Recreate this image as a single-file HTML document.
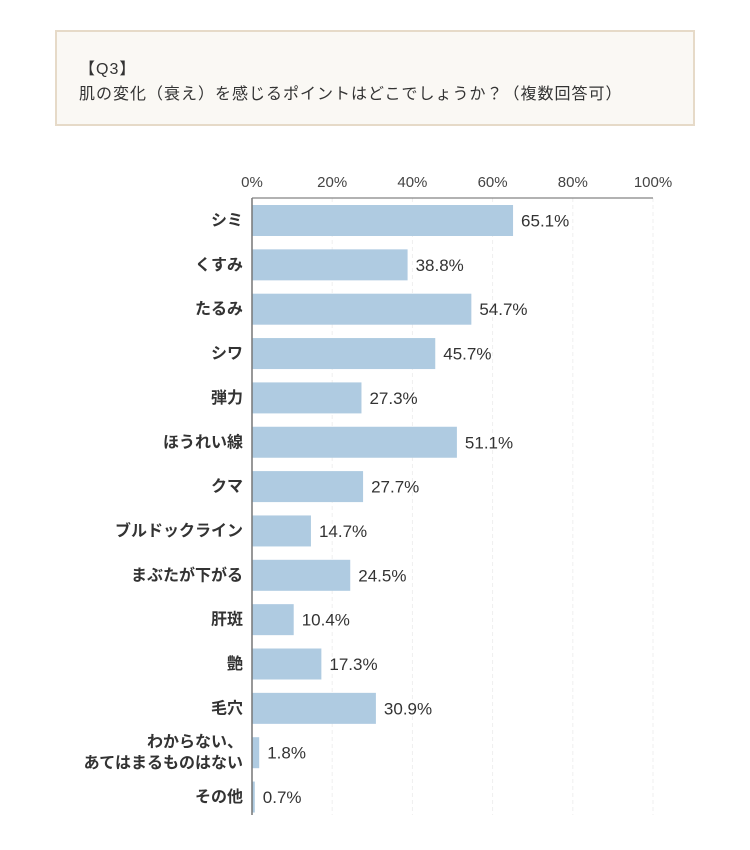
<!DOCTYPE html>
<html><head><meta charset="utf-8"><style>
body{margin:0;background:#fff;width:750px;height:850px;overflow:hidden;font-family:"Liberation Sans","Noto Sans CJK JP",sans-serif;}
#hdr{position:absolute;left:55px;top:30px;width:636px;height:92px;background:#faf8f4;border:2px solid #e6dac8;}
#hdr div{position:absolute;left:22px;color:#333;font-size:16px;letter-spacing:1px;}
</style></head><body>
<div id="hdr">
<div style="top:23px">【Q3】</div>
<div style="top:48px">肌の変化（衰え）を感じるポイントはどこでしょうか？（複数回答可）</div>
</div>
<svg id="chart" width="750" height="850" style="position:absolute;left:0;top:0"></svg>
<script>
const categories=["シミ","くすみ","たるみ","シワ","弾力","ほうれい線","クマ","ブルドックライン","まぶたが下がる","肝斑","艶","毛穴","わからない、|あてはまるものはない","その他"];
const values=[65.1,38.8,54.7,45.7,27.3,51.1,27.7,14.7,24.5,10.4,17.3,30.9,1.8,0.7];
const ticks=[0,20,40,60,80,100];
const NS="http://www.w3.org/2000/svg";
const svg=document.getElementById('chart');
const x0=252,x1=653,top0=198,pitch=44.35,firstC=220.5,bh=31,bottom=815;
function xs(v){return x0+(x1-x0)*v/100;}
function yc(i){return firstC+i*pitch;}
function mk(t,a){const e=document.createElementNS(NS,t);for(const k in a)e.setAttribute(k,a[k]);svg.appendChild(e);return e;}
ticks.forEach(t=>{
 if(t>0){const g=mk('line',{x1:xs(t),x2:xs(t),y1:top0,y2:bottom,stroke:'#efefef','stroke-dasharray':'4,3'});
 
 }
 const l=mk('text',{x:xs(t),y:187,'text-anchor':'middle','font-size':15,fill:'#444'});
 l.textContent=t+'%';
 
 
});
const ax=mk('line',{x1:x0,x2:x1,y1:top0,y2:top0,stroke:'#666','stroke-width':1});


categories.forEach((c,i)=>{
 const y=yc(i);
 const r=mk('rect',{x:x0,y:y-bh/2,width:Math.max(xs(values[i])-x0,1.5),height:bh,fill:'#afcbe1'});
 
 
 const v=mk('text',{x:xs(values[i])+8,y:y+6,'font-size':17,fill:'#333'});
 v.textContent=values[i].toFixed(1)+'%';
 
 
 const parts=c.split('|');
 parts.forEach((p,j)=>{
  const t=mk('text',{x:243,y:y+5+(j-(parts.length-1)/2)*21,'text-anchor':'end','font-size':16,'font-weight':'bold',fill:'#333'});
  t.textContent=p;
  
  
 });
});
const ya=mk('line',{x1:x0,x2:x0,y1:top0,y2:bottom,stroke:'#777','stroke-width':1.5});


</script>
</body></html>
